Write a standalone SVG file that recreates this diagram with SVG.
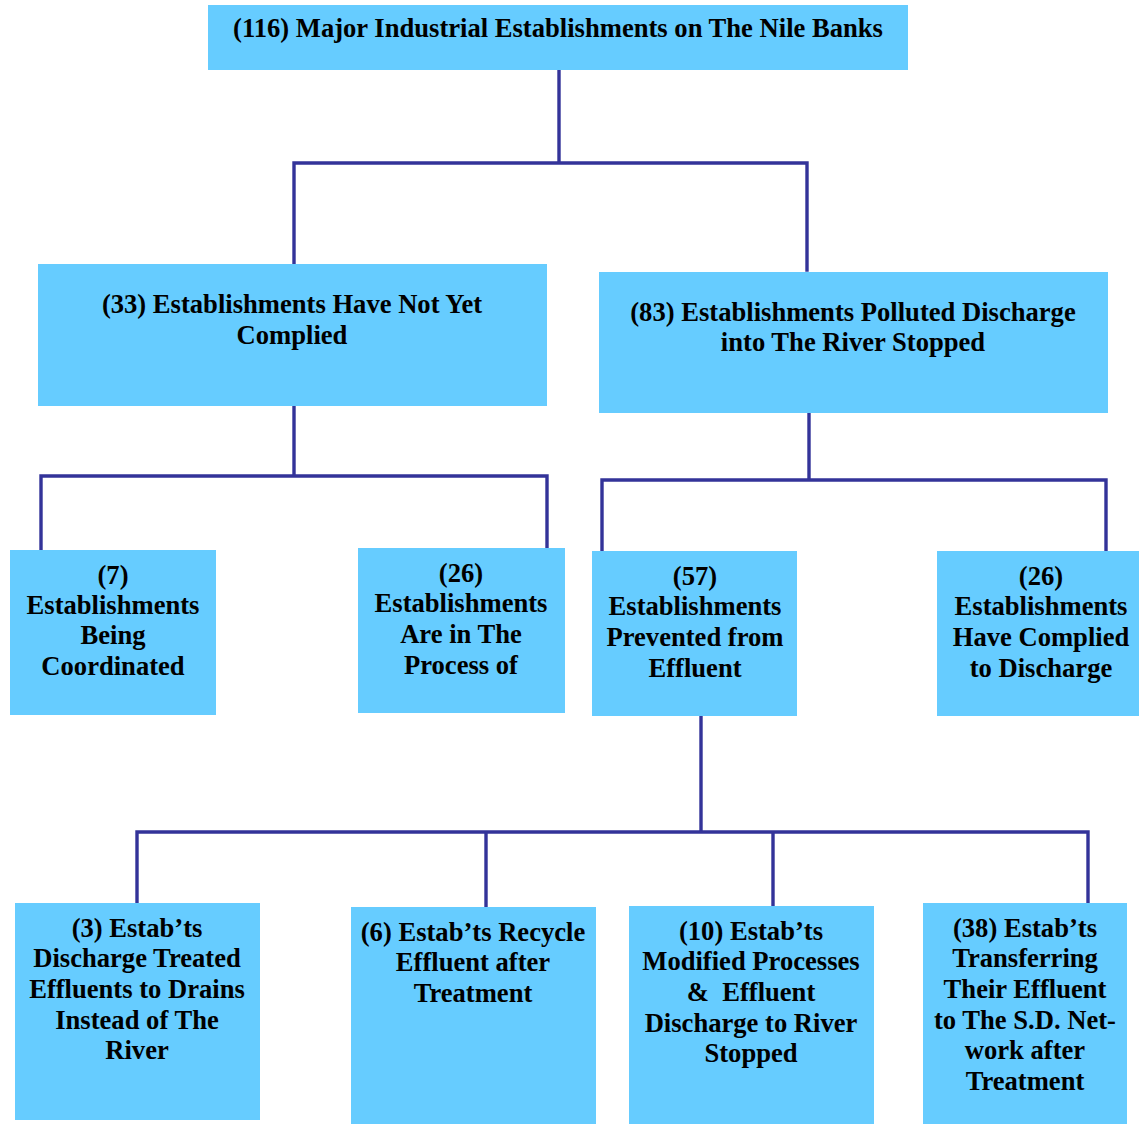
<svg xmlns="http://www.w3.org/2000/svg" width="1139" height="1124" viewBox="0 0 1139 1124">
<style>
.box{fill:#66CCFF;}
.t{font-family:"Liberation Serif","Times New Roman",serif;font-weight:bold;font-size:26.6px;fill:#000;text-anchor:middle;}
.c{stroke:#333399;stroke-width:3.4;fill:none;stroke-linecap:square;}
</style>
<rect width="1139" height="1124" fill="#fff"/>
<g id="connectors">
<path class="c" d="M559 70 V163 M294 264 V163 H807 V270"/>
<path class="c" d="M294 406 V476 M41 549 V476 H547 V548"/>
<path class="c" d="M809 413 V480 M602 551 V480 H1106 V551"/>
<path class="c" d="M701 716 V832 M137 903 V832 H1088 V903 M486 832 V907 M773 835 V906"/>
</g>
<g id="n116"><rect class="box" x="208" y="5" width="700" height="65"/>
<text class="t" x="558" y="37">(116) Major Industrial Establishments on The Nile Banks</text></g>
<g id="n33"><rect class="box" x="38" y="264" width="509" height="142"/>
<text class="t" x="292" y="313">(33) Establishments Have Not Yet</text>
<text class="t" x="292" y="344">Complied</text></g>
<g id="n83"><rect class="box" x="599" y="272" width="509" height="141"/>
<text class="t" x="853" y="321">(83) Establishments Polluted Discharge</text>
<text class="t" x="853" y="351">into The River Stopped</text></g>
<g id="n7"><rect class="box" x="10" y="550" width="206" height="165"/>
<text class="t" x="113" y="584">(7)</text>
<text class="t" x="113" y="614">Establishments</text>
<text class="t" x="113" y="644">Being</text>
<text class="t" x="113" y="675">Coordinated</text></g>
<g id="n26a"><rect class="box" x="358" y="548" width="207" height="165"/>
<text class="t" x="461" y="582">(26)</text>
<text class="t" x="461" y="612">Establishments</text>
<text class="t" x="461" y="643">Are in The</text>
<text class="t" x="461" y="674">Process of</text></g>
<g id="n57"><rect class="box" x="592" y="551" width="205" height="165"/>
<text class="t" x="695" y="585">(57)</text>
<text class="t" x="695" y="615">Establishments</text>
<text class="t" x="695" y="646">Prevented from</text>
<text class="t" x="695" y="677">Effluent</text></g>
<g id="n26b"><rect class="box" x="937" y="551" width="202" height="165"/>
<text class="t" x="1041" y="585">(26)</text>
<text class="t" x="1041" y="615">Establishments</text>
<text class="t" x="1041" y="646">Have Complied</text>
<text class="t" x="1041" y="677">to Discharge</text></g>
<g id="n3"><rect class="box" x="15" y="903" width="245" height="217"/>
<text class="t" x="137" y="937">(3) Estab’ts</text>
<text class="t" x="137" y="967">Discharge Treated</text>
<text class="t" x="137" y="998">Effluents to Drains</text>
<text class="t" x="137" y="1029">Instead of The</text>
<text class="t" x="137" y="1059">River</text></g>
<g id="n6"><rect class="box" x="351" y="907" width="245" height="217"/>
<text class="t" x="473" y="941">(6) Estab’ts Recycle</text>
<text class="t" x="473" y="971">Effluent after</text>
<text class="t" x="473" y="1002">Treatment</text></g>
<g id="n10"><rect class="box" x="629" y="906" width="245" height="218"/>
<text class="t" x="751" y="940">(10) Estab’ts</text>
<text class="t" x="751" y="970">Modified Processes</text>
<text class="t" x="751" y="1001" xml:space="preserve">&amp;  Effluent</text>
<text class="t" x="751" y="1032">Discharge to River</text>
<text class="t" x="751" y="1062">Stopped</text></g>
<g id="n38"><rect class="box" x="923" y="903" width="204" height="221"/>
<text class="t" x="1025" y="937">(38) Estab’ts</text>
<text class="t" x="1025" y="967">Transferring</text>
<text class="t" x="1025" y="998">Their Effluent</text>
<text class="t" x="1025" y="1029">to The S.D. Net-</text>
<text class="t" x="1025" y="1059">work after</text>
<text class="t" x="1025" y="1090">Treatment</text></g>
</svg>
